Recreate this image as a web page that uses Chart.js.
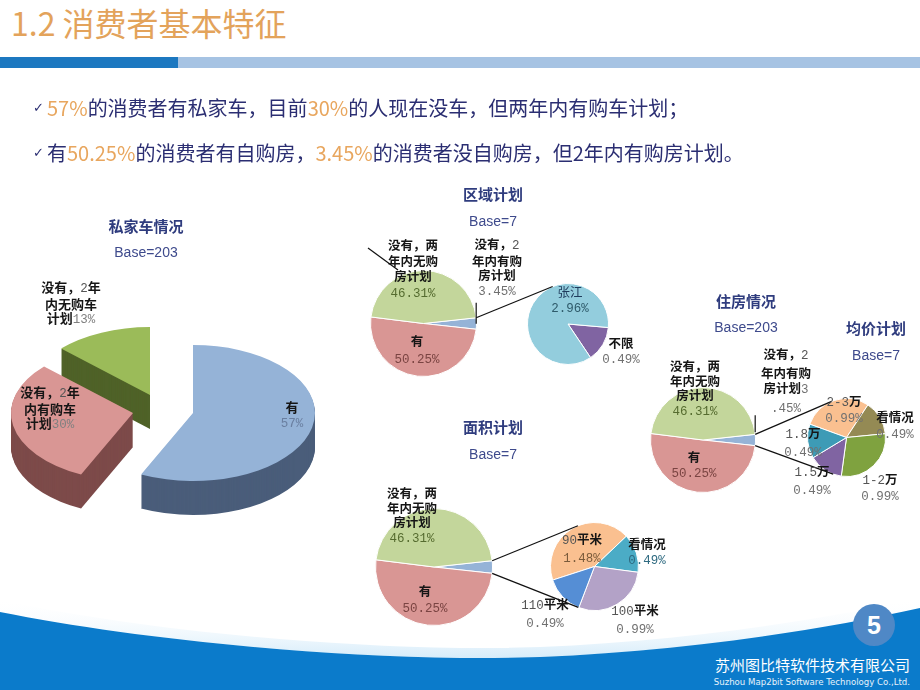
<!DOCTYPE html>
<html><head><meta charset="utf-8">
<script src="https://cdn.jsdelivr.net/npm/chart.js@4/dist/chart.umd.min.js"></script>
<style>
html,body{margin:0;padding:0;background:#fff;}
#stage{position:relative;width:920px;height:690px;overflow:hidden;font-family:"Noto Sans CJK SC","Noto Sans",sans-serif;}
.abs{position:absolute;}
canvas.pie{position:absolute;}
.lbl{position:absolute;transform:translate(-50%,-50%);text-align:center;white-space:nowrap;font-size:12.5px;line-height:15px;color:#151515;font-weight:700;}
.lbl .m{font-family:"Liberation Mono",monospace;font-weight:400;font-size:12.5px;}
.ttl{position:absolute;transform:translate(-50%,-50%);white-space:nowrap;font-size:15px;font-weight:700;color:#2F3C7E;}
.base{position:absolute;transform:translate(-50%,-50%);white-space:nowrap;font-size:14px;font-family:"Liberation Sans",sans-serif;color:#3E4A8C;}
.bul{position:absolute;left:47px;font-size:20px;line-height:24px;color:#2B2E72;white-space:nowrap;}
.bul .o{color:#E8A65E;}
.chk{position:absolute;font-family:"DejaVu Sans";font-size:13px;line-height:20px;color:#2B2E72;}
</style>
</head><body>
<div id="stage">
  <svg class="abs" style="left:0;top:0" width="920" height="690">
    <rect x="0" y="57" width="178" height="11" fill="#1C78C0"/>
    <rect x="178" y="57" width="742" height="11" fill="#A6C3E3"/>
    <defs><linearGradient id="sk" x1="0" y1="0" x2="0" y2="1"><stop offset="0" stop-color="#ffffff" stop-opacity="0"/><stop offset="1" stop-color="#D6ECFA"/></linearGradient></defs>
    <path d="M0 600 C 120 626, 300 646, 460 648 C 620 650, 800 625, 920 598 L920 612 C 800 635, 620 660, 460 658 C 300 656, 120 636, 0 612 Z" fill="url(#sk)"/>
    <path d="M0 612 C 120 636, 300 656, 460 658 C 620 660, 800 635, 920 608 L920 690 L0 690 Z" fill="#0B7BCB"/>
    <circle cx="874" cy="625" r="21" fill="#4F88C6"/>
    <text x="874" y="634" text-anchor="middle" font-family="Liberation Sans" font-weight="700" font-size="25" fill="#fff">5</text>
  </svg>
  <div class="abs" style="left:11px;top:2px;font-size:32px;line-height:40px;color:#E3A35B;white-space:nowrap;">1.2 消费者基本特征</div>
  <div class="abs" style="right:10px;top:655px;font-size:15px;line-height:20px;color:#fff;white-space:nowrap;">苏州图比特软件技术有限公司</div>
  <div class="abs" style="right:10px;top:676px;font-size:8.6px;line-height:12px;color:#E6F2FB;white-space:nowrap;font-family:'DejaVu Sans';">Suzhou Map2bit Software Technology Co.,Ltd.</div>
</div>
<script>
// ---------------- DATA ----------------
const carTitle = '私家车情况', carBase = 'Base=203';
const carCategories = ['有', '没有，2年\n内有购车\n计划', '没有，2年\n内无购车\n计划'];
const carValues = [57, 30, 13];

const houseTitle = '住房情况', houseBase = 'Base=203';
const houseCategories = ['没有，2\n年内有购\n房计划', '有', '没有，两\n年内无购\n房计划'];
const houseValues = [3.45, 50.25, 46.31];

const regionTitle = '区域计划', regionBase = 'Base=7';
const regionCategories = ['不限', '张江'];
const regionValues = [0.49, 2.96];

const priceTitle = '均价计划', priceBase = 'Base=7';
const priceCategories = ['2-3万', '看情况', '1-2万', '1.5万', '1.8万'];
const priceValues = [0.99, 0.49, 0.99, 0.49, 0.49];

const areaTitle = '面积计划', areaBase = 'Base=7';
const areaCategories = ['90平米', '看情况', '100平米', '110平米'];
const areaValues = [1.48, 0.49, 0.99, 0.49];

// ---------------- STYLE / LAYOUT ----------------
const COL = {
  carTop: ['#95B3D7', '#D99694', '#9BBB59'],
  carSide: ['#4A5D7A', '#7D4B4A', '#4F6228'],
  house: ['#95B3D7', '#D99694', '#C3D69B'],
  region: ['#8064A2', '#93CDDD'],
  price: ['#FAC090', '#948A54', '#7FA23F', '#8064A2', '#3D9BB6'],
  area: ['#FAC090', '#4BACC6', '#B3A2C7', '#558ED5']
};
const stage = document.getElementById('stage');

function pct2(v){ return v.toFixed(2) + '%'; }
function pct0(v){ return v + '%'; }

function makeCanvas(left, top, w, h){
  const cv = document.createElement('canvas');
  cv.width = w; cv.height = h; cv.className = 'pie';
  cv.style.left = left + 'px'; cv.style.top = top + 'px';
  cv.style.width = w + 'px'; cv.style.height = h + 'px';
  stage.appendChild(cv);
  return cv;
}
const baseOpts = { responsive:false, animation:false, devicePixelRatio:1, events:[],
  plugins:{ legend:{display:false}, tooltip:{enabled:false} } };

function makePie(cx, cy, r, labels, values, colors, rotation){
  const size = Math.round(2*r + 1);
  const left = Math.round(cx - size/2), top = Math.round(cy - size/2);
  const cv = makeCanvas(left, top, size, size);
  const ch = new Chart(cv, { type:'pie',
    data:{ labels, datasets:[{ data:values, backgroundColor:colors, borderColor:'#ffffff', borderWidth:1 }] },
    options:Object.assign({}, baseOpts, { rotation, layout:{padding:0} }) });
  ch._ox = left; ch._oy = top;
  return ch;
}

// 3D exploded pie plugin
const pie3d = {
  id:'pie3d',
  beforeDatasetsDraw(chart, args, o){
    const meta = chart.getDatasetMeta(0), ctx = chart.ctx;
    for (let i = meta.data.length - 1; i >= 0; i--){
      const el = meta.data[i];
      const p = el.getProps(['x','y','startAngle','endAngle','outerRadius'], true);
      const [dx, dy] = o.explode[i];
      ctx.save(); ctx.fillStyle = o.sideColors[i];
      for (let k = o.depth; k >= 1; k--){
        ctx.save(); ctx.translate(p.x + dx, p.y + dy + k); ctx.scale(1, o.tilt);
        ctx.beginPath(); ctx.moveTo(0,0); ctx.arc(0,0,p.outerRadius,p.startAngle,p.endAngle); ctx.closePath(); ctx.fill();
        ctx.restore();
      }
      ctx.restore();
      ctx.save(); ctx.translate(p.x + dx, p.y + dy); ctx.scale(1, o.tilt); ctx.translate(-p.x, -p.y);
      el.draw(ctx, chart.chartArea);
      ctx.restore();
    }
    return false;
  }
};

// car 3D pie: centre (193,413), radius 122
const carCv = makeCanvas(0, 280, 386, 266);
new Chart(carCv, { type:'pie',
  data:{ labels:carCategories, datasets:[{ data:carValues, backgroundColor:COL.carTop, borderWidth:0 }] },
  options:Object.assign({}, baseOpts, { rotation:0, layout:{padding:{top:11,bottom:11}},
    plugins:{ legend:{display:false}, tooltip:{enabled:false},
      pie3d:{ tilt:0.557, depth:34, explode:[[0,0],[-60,0],[-43,-18]], sideColors:COL.carSide } } }),
  plugins:[pie3d] });

// pie-of-pie charts
const regionMain = makePie(423, 323, 53, houseCategories, houseValues, COL.house, 83.8);
const regionSub  = makePie(568, 324, 40.5, regionCategories, regionValues, COL.region, 95);
const houseMain  = makePie(702.5, 440, 52.5, houseCategories, houseValues, COL.house, 83.8);
const priceSub   = makePie(846, 437, 39, priceCategories, priceValues, COL.price, 290);
const areaMain   = makePie(433.5, 566.5, 58.5, houseCategories, houseValues, COL.house, 83.8);
const areaSub    = makePie(594, 566, 44, areaCategories, areaValues, COL.area, 252);

// overlay connector lines
const ov = makeCanvas(0, 0, 920, 690);
const octx = ov.getContext('2d');
octx.strokeStyle = '#111'; octx.lineWidth = 1.2;
function line(a, b){ octx.beginPath(); octx.moveTo(a[0], a[1]); octx.lineTo(b[0], b[1]); octx.stroke(); }
function wedgePts(ch){
  const p = ch.getDatasetMeta(0).data[0].getProps(['x','y','startAngle','endAngle','outerRadius'], true);
  const cx = ch._ox + p.x, cy = ch._oy + p.y, r = p.outerRadius;
  return [[cx + r*Math.cos(p.startAngle), cy + r*Math.sin(p.startAngle)],
          [cx + r*Math.cos(p.endAngle),   cy + r*Math.sin(p.endAngle)]];
}
function tangent(P, ch, upper){
  const p = ch.getDatasetMeta(0).data[0].getProps(['x','y','outerRadius'], true);
  const C = [ch._ox + p.x, ch._oy + p.y], R = p.outerRadius;
  const d = Math.hypot(P[0]-C[0], P[1]-C[1]);
  const phi = Math.atan2(P[1]-C[1], P[0]-C[0]), al = Math.acos(R/d);
  const t1 = [C[0] + R*Math.cos(phi+al), C[1] + R*Math.sin(phi+al)];
  const t2 = [C[0] + R*Math.cos(phi-al), C[1] + R*Math.sin(phi-al)];
  return upper ? (t1[1] < t2[1] ? t1 : t2) : (t1[1] > t2[1] ? t1 : t2);
}
function connect(main, sub, lower){
  const [A, B] = wedgePts(main);
  line(A, tangent(A, sub, true));
  if (lower) line(B, tangent(B, sub, false));
  return A;
}
const ra = connect(regionMain, regionSub, false);
line([ra[0], ra[1] + 6], [ra[0], ra[1] - 15]);
line([368, 248], [398, 270]);
const ha = connect(houseMain, priceSub, true);
line([ha[0], ha[1] - 2], [ha[0], ha[1] - 19]);
connect(areaMain, areaSub, true);

// ---------------- TEXT ----------------
function esc(s){ return s.replace(/&/g,'&amp;').replace(/</g,'&lt;'); }
function rich(str, asciiColor){
  return esc(str).replace(/([\x20-\x7e]+)/g, m => `<span class="m" style="color:${asciiColor}">${m}</span>`);
}
function addDiv(cls, x, y, html, style){
  const d = document.createElement('div'); d.className = cls;
  d.style.left = x + 'px'; d.style.top = y + 'px'; if (style) d.style.cssText += style;
  d.innerHTML = html; stage.appendChild(d); return d;
}
// label: name lines + percent; mode 'newline' | 'inline' | number (chars kept inline)
function label(x, y, name, pctStr, mode, pctColor, style){
  const lines = name.split('\n').map(l => rich(l, '#555'));
  const pc = `<span class="m" style="color:${pctColor}">`;
  if (mode === 'inline') lines[lines.length-1] += pc + pctStr + '</span>';
  else if (typeof mode === 'number'){
    lines[lines.length-1] += pc + pctStr.slice(0, mode) + '</span>';
    lines.push(pc + pctStr.slice(mode) + '</span>');
  } else lines.push(pc + pctStr + '</span>');
  addDiv('lbl', x, y, lines.join('<br>'), style);
}
// titles
[[carTitle, carBase, 146, 225, 252], [regionTitle, regionBase, 493, 193, 221],
 [houseTitle, houseBase, 746, 300, 327], [priceTitle, priceBase, 876, 327, 355],
 [areaTitle, areaBase, 493, 426, 454]].forEach(([t, b, x, y1, y2]) => {
  addDiv('ttl', x, y1, esc(t)); addDiv('base', x, y2, esc(b));
});
// bullets
addDiv('chk', 33, 98, '✓'); addDiv('chk', 33, 143, '✓');
addDiv('bul', 47, 96, `<span class="o">${carValues[0]}%</span>的消费者有私家车，目前<span class="o">${carValues[1]}%</span>的人现在没车，但两年内有购车计划；`);
addDiv('bul', 47, 141, `有<span class="o">${pct2(houseValues[1])}</span>的消费者有自购房，<span class="o">${pct2(houseValues[0])}</span>的消费者没自购房，但2年内有购房计划。`);

const carStyle = 'font-size:13px;line-height:14.5px;';
label(292, 415, carCategories[0], pct0(carValues[0]), 'newline', '#6A7FA0', carStyle);
label(50, 409, carCategories[1], pct0(carValues[1]), 'inline', '#808080', carStyle);
label(71, 304, carCategories[2], pct0(carValues[2]), 'inline', '#808080', carStyle);

const GREEN_P = '#556B2F', PINK_P = '#7A4442', GREY_P = '#707070';
// region
label(413, 269, houseCategories[2], pct2(houseValues[2]), 'newline', GREEN_P, 'line-height:15.5px');
label(497, 268, houseCategories[0], pct2(houseValues[0]), 'newline', GREY_P, 'line-height:14.7px');
label(417, 350, houseCategories[1], pct2(houseValues[1]), 'newline', PINK_P, 'line-height:17px');
label(570, 300, regionCategories[1], pct2(regionValues[1]), 'newline', '#2E5A6A', 'font-weight:400;color:#1F3B5C');
label(621, 351, regionCategories[0], pct2(regionValues[0]), 'newline', GREY_P);
// housing
label(695, 389, houseCategories[2], pct2(houseValues[2]), 'newline', GREEN_P, 'line-height:14.7px');
label(786, 381, houseCategories[0], pct2(houseValues[0]), 1, GREY_P, 'line-height:15.5px');
label(694, 465, houseCategories[1], pct2(houseValues[1]), 'newline', PINK_P);
label(844, 410, priceCategories[0], pct2(priceValues[0]), 'newline', GREY_P, 'line-height:13px');
label(895, 426, priceCategories[1], pct2(priceValues[1]), 'newline', GREY_P, 'line-height:16px');
label(880, 488, priceCategories[2], pct2(priceValues[2]), 'newline', GREY_P, 'line-height:13px');
label(812, 481, priceCategories[3], pct2(priceValues[3]), 'newline', GREY_P, 'line-height:16px');
label(803, 443, priceCategories[4], pct2(priceValues[4]), 'newline', GREY_P, 'line-height:15px');
// area
label(412, 516, houseCategories[2], pct2(houseValues[2]), 'newline', GREEN_P, 'line-height:14.7px');
label(425, 600, houseCategories[1], pct2(houseValues[1]), 'newline', PINK_P, 'line-height:16px');
label(582, 549, areaCategories[0], pct2(areaValues[0]), 'newline', '#7A5A3A');
label(647, 552, areaCategories[1], pct2(areaValues[1]), 'newline', '#2E6A80');
label(545, 614, areaCategories[3], pct2(areaValues[3]), 'newline', GREY_P);
label(635, 620, areaCategories[2], pct2(areaValues[2]), 'newline', GREY_P);
</script>
</body></html>
